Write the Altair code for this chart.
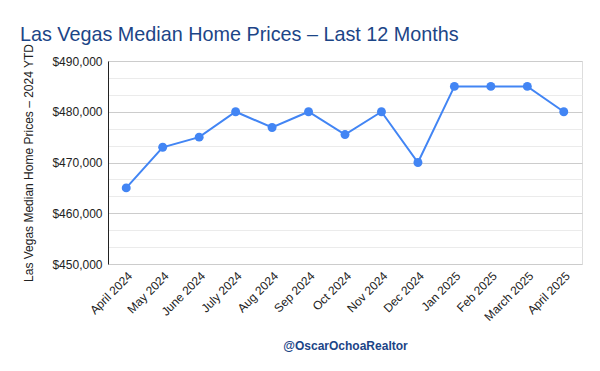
import altair as alt
import pandas as pd
import numpy as np

months = ["April 2024", "May 2024", "June 2024", "July 2024", "Aug 2024", "Sep 2024",
          "Oct 2024", "Nov 2024", "Dec 2024", "Jan 2025", "Feb 2025", "March 2025", "April 2025"]
prices = [465000, 473000, 475000, 480000, 476900, 480000,
          475500, 480000, 470000, 485000, 485000, 485000, 480000]

df = pd.DataFrame({"month": months, "price": prices})

BLUE = "#4285f4"
DARK = "#1c4587"
FONT = "Liberation Sans"

y_values = [float(v) for v in np.linspace(450000, 490000, 13)]

x = alt.X("month:N", sort=months,
          scale=alt.Scale(type="point", padding=0.5),
          axis=alt.Axis(title="@OscarOchoaRealtor", titleFontWeight="bold", titleColor=DARK,
                        titleFontSize=12, titleFont=FONT, titleBaseline="middle", titleY=81,
                        labelAngle=-45, labelFontSize=12, labelColor="#222222", labelFont=FONT,
                        domain=False, ticks=False, grid=False, labelPadding=6))
y = alt.Y("price:Q",
          scale=alt.Scale(domain=[450000, 490000], nice=False, zero=False),
          axis=alt.Axis(title="Las Vegas Median Home Prices – 2024 YTD", titleFontSize=12,
                        titleFontWeight="normal", titleColor="#222222", titleFont=FONT,
                        titlePadding=16,
                        values=y_values,
                        labelExpr="abs(datum.value % 10000) < 1 ? format(datum.value, '$,.0f') : ''",
                        labelFontSize=12, labelColor="#222222", labelFont=FONT, labelPadding=6,
                        ticks=False, tickSize=0, domain=True, domainColor="#222222", domainWidth=1,
                        grid=True,
                        gridColor=alt.condition("abs(datum.value % 10000) < 1", alt.value("#cccccc"), alt.value("#ebebeb"))))

line = alt.Chart(df).mark_line(color=BLUE, strokeWidth=2).encode(x=x, y=y)
pts = alt.Chart(df).mark_point(filled=True, color=BLUE, size=80, opacity=1).encode(x=x, y=y)

chart = (line + pts).properties(
    width=474, height=203,
    title=alt.TitleParams("Las Vegas Median Home Prices – Last 12 Months", anchor="start",
                          frame="bounds", fontSize=19.8, color=DARK, font=FONT,
                          fontWeight="normal", dx=-3, dy=5),
    autosize=alt.AutoSizeParams(type="none"),
    padding={"left": 100, "top": 53, "right": 10, "bottom": 99},
).configure_view(stroke=None).configure(font=FONT)

chart.save("out.html", embed_options={"renderer": "svg", "actions": False})
